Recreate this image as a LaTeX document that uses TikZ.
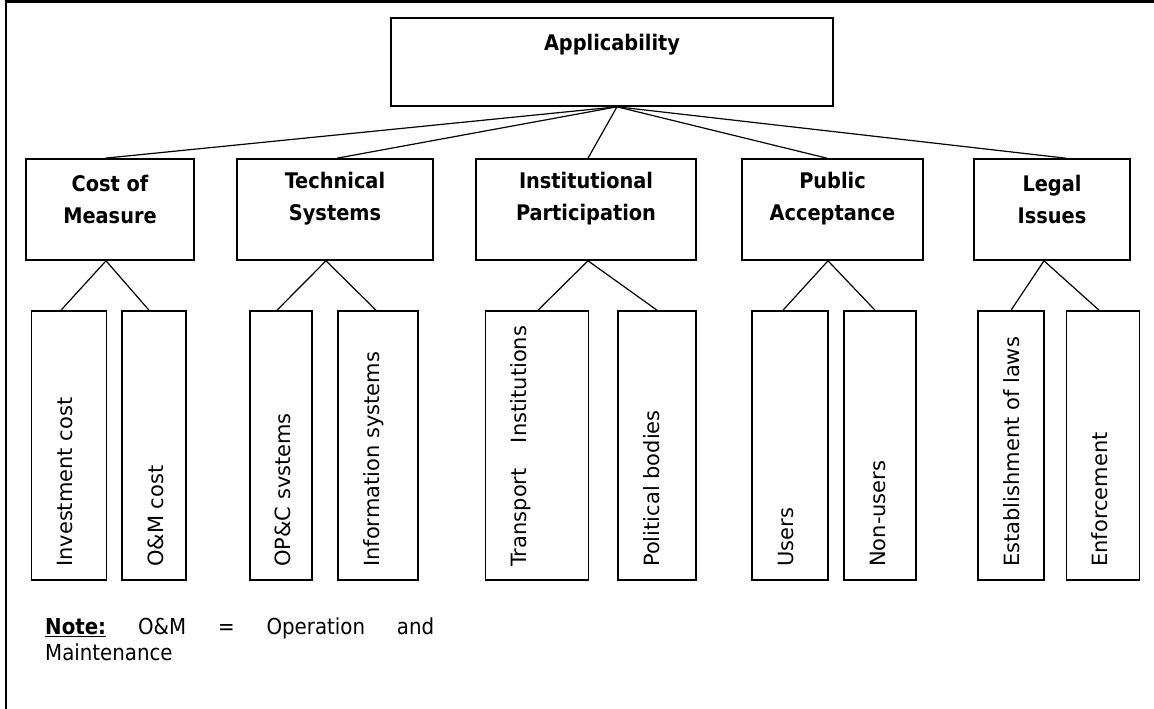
\documentclass[tikz,border=0pt]{standalone}
\usepackage{fontspec}
\setmainfont{DejaVu Sans}
\newfontfamily\narrowsans{DejaVu Sans Condensed}

\begin{document}
\begin{tikzpicture}[x=1pt,y=-1pt]
  \tikzset{box/.style={draw,rectangle,line width=1.6pt,inner sep=0pt}}
  \tikzset{head/.style={inner sep=0pt,align=center,font=\narrowsans\bfseries\fontsize{21.5}{32}\selectfont}}
  \tikzset{leaf/.style={inner sep=0pt,rotate=90,anchor=base west,font=\fontsize{21}{25}\selectfont}}
  \tikzset{link/.style={draw,line width=1.2pt}}

  \useasboundingbox (0,0) rectangle (1154,709);
  \draw[line width=2.5pt] (6,709) -- (6,1.5) -- (1154,1.5);

  % top
  \node[box,minimum width=442,minimum height=88] (app) at (612,62) {};
  \node[head] (apptxt) at (612,45) {Applicability};

  % second level
  \node[box,minimum width=168,minimum height=101] (cost)  at (110,209.5) {};
  \node[box,minimum width=196,minimum height=101] (tech)  at (335,209.5) {};
  \node[box,minimum width=220,minimum height=101] (inst)  at (586,209.5) {};
  \node[box,minimum width=181,minimum height=101] (pub)   at (832.5,209.5) {};
  \node[box,minimum width=156,minimum height=101] (legal) at (1052,209.5) {};

  \node[head] (costtxt)  at (110,199) {Cost of\\Measure};
  \node[head] (techtxt)  at (335,199) {Technical\\Systems};
  \node[head] (insttxt)  at (586,199) {Institutional\\Participation};
  \node[head] (pubtxt)   at (832.5,199) {Public\\Acceptance};
  \node[head] (legaltxt) at (1052,199) {Legal\\Issues};

  % third level
  \node[box,minimum width=75,minimum height=269]   (inv)   at (69,445.5) {};
  \node[box,minimum width=63.5,minimum height=269] (om)    at (154,445.5) {};
  \node[box,minimum width=62.5,minimum height=269] (opc)   at (281,445.5) {};
  \node[box,minimum width=79.5,minimum height=269] (info)  at (378,445.5) {};
  \node[box,minimum width=103,minimum height=269]  (trans) at (537,445.5) {};
  \node[box,minimum width=78,minimum height=269]   (pol)   at (657,445.5) {};
  \node[box,minimum width=76,minimum height=269]   (users) at (790,445.5) {};
  \node[box,minimum width=72,minimum height=269]   (nonu)  at (880,445.5) {};
  \node[box,minimum width=65.5,minimum height=269] (estab) at (1011,445.5) {};
  \node[box,minimum width=73,minimum height=269]   (enf)   at (1103,445.5) {};

  \node[leaf] (invtxt)   at (72.5,567) {Investment cost};
  \node[leaf] (omtxt)    at (163.5,567) {O\&M cost};
  \node[leaf] (opctxt)   at (290.5,567) {OP\&C svstems};
  \node[leaf] (infotxt)  at (379,567) {Information systems};
  \node[leaf] (transtxt) at (526.5,567) {Transport\hspace{1.2em}Institutions};
  \node[leaf] (poltxt)   at (659,567) {Political bodies};
  \node[leaf] (userstxt) at (793,567) {Users};
  \node[leaf] (nonutxt)  at (885,567) {Non-users};
  \node[leaf] (estabtxt) at (1019.5,567) {Establishment of laws};
  \node[leaf] (enftxt)   at (1107.5,567) {Enforcement};

  % links from the top box
  \draw[link] ([xshift=5pt]app.south) -- ([xshift=-5pt]cost.north);
  \draw[link] ([xshift=5pt]app.south) -- ([xshift=2pt]tech.north);
  \draw[link] ([xshift=5pt]app.south) -- ([xshift=2pt]inst.north);
  \draw[link] ([xshift=5pt]app.south) -- ([xshift=-5.5pt]pub.north);
  \draw[link] ([xshift=5pt]app.south) -- ([xshift=14pt]legal.north);

  % links to the third level
  \draw[link] ([xshift=-4pt]cost.south) -- ([xshift=-8pt]inv.north);
  \draw[link] ([xshift=-4pt]cost.south) -- ([xshift=-5pt]om.north);
  \draw[link] ([xshift=-9pt]tech.south) -- ([xshift=-4pt]opc.north);
  \draw[link] ([xshift=-9pt]tech.south) -- ([xshift=-2pt]info.north);
  \draw[link] ([xshift=2pt]inst.south) -- ([xshift=1pt]trans.north);
  \draw[link] ([xshift=2pt]inst.south) -- (pol.north);
  \draw[link] ([xshift=-4.5pt]pub.south) -- ([xshift=-7pt]users.north);
  \draw[link] ([xshift=-4.5pt]pub.south) -- ([xshift=-5pt]nonu.north);
  \draw[link] ([xshift=-8pt]legal.south) -- (estab.north);
  \draw[link] ([xshift=-8pt]legal.south) -- ([xshift=-4pt]enf.north);

  % note
  \node[inner sep=0pt,anchor=north west,text width=389pt,align=left,
        font=\narrowsans\fontsize{22}{26}\selectfont] (note) at (45,618)
    {\underline{\textbf{Note:}}\hfill O\&M\hfill =\hfill Operation\hfill and\\Maintenance};
\end{tikzpicture}
\end{document}
